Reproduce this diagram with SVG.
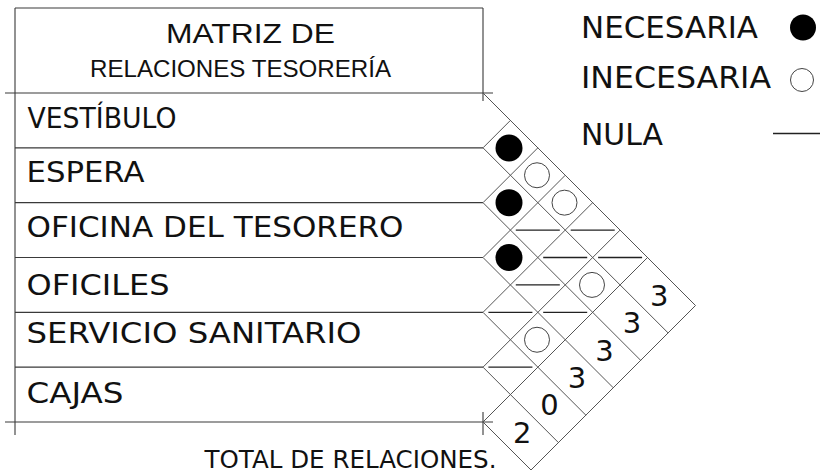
<svg xmlns="http://www.w3.org/2000/svg" width="820" height="473" viewBox="0 0 820 473">
<style>
.tl{stroke:#3a3a3a;stroke-width:1.1;fill:none}
.gl{stroke:#555;stroke-width:1;fill:none}
.ds{stroke:#222;stroke-width:1.3}
.fc{fill:#000}
.oc{fill:#fff;stroke:#444;stroke-width:1}
.lb{font-family:"DejaVu Sans",Verdana,sans-serif;font-size:28px;fill:#111}
.tot{font-family:"DejaVu Sans",Verdana,sans-serif;font-size:24px;fill:#111}
.lg{font-family:"DejaVu Sans",Verdana,sans-serif;font-size:31px;fill:#111}
.nm{font-family:"DejaVu Sans",Verdana,sans-serif;font-size:29px;fill:#111;text-anchor:middle}
.tt{font-family:"Liberation Sans",Arial,sans-serif;fill:#111}
</style>
<rect width="820" height="473" fill="#fff"/>
<g id="table">
<path class="tl" d="M15,8H483M15,8V435M483,8V101M5,93H493M15,147.83H483M15,202.67H483M15,257.5H483M15,312.33H483M15,367.17H483M5,422H493M483,412V435"/>
</g>
<g id="title">
<text class="tt" x="166" y="42.7" font-size="28" textLength="169" lengthAdjust="spacingAndGlyphs">MATRIZ DE</text>
<text class="tt" x="90" y="76.7" font-size="24" textLength="301" lengthAdjust="spacingAndGlyphs">RELACIONES TESORERÍA</text>
</g>
<g id="row-vestibulo"><text class="lb" x="27.5" y="128.3" textLength="149" lengthAdjust="spacingAndGlyphs">VESTÍBULO</text></g>
<g id="row-espera"><text class="lb" x="26.5" y="181.7" textLength="118" lengthAdjust="spacingAndGlyphs">ESPERA</text></g>
<g id="row-oficina"><text class="lb" x="26.5" y="236.7" textLength="377" lengthAdjust="spacingAndGlyphs">OFICINA DEL TESORERO</text></g>
<g id="row-oficiles"><text class="lb" x="26.5" y="295" textLength="143" lengthAdjust="spacingAndGlyphs">OFICILES</text></g>
<g id="row-servicio"><text class="lb" x="26.5" y="343.3" textLength="335" lengthAdjust="spacingAndGlyphs">SERVICIO SANITARIO</text></g>
<g id="row-cajas"><text class="lb" x="26.5" y="403.3" textLength="97" lengthAdjust="spacingAndGlyphs">CAJAS</text></g>
<g id="connectors">
<path class="gl" d="M483,93L695.5,305.5M483,147.83L668.08,332.92M483,202.67L640.67,360.33M483,257.5L613.25,387.75M483,312.33L585.83,415.17M483,367.17L558.42,442.58M483,422L531,470M483,147.83L510.42,120.42M483,202.67L537.83,147.83M483,257.5L565.25,175.25M483,312.33L592.67,202.67M483,367.17L620.08,230.08M483,422L647.5,257.5M695.5,305.5L531,470"/>
</g>
<g id="cells">
<circle class="fc" cx="509" cy="148" r="13.5"/>
<circle class="fc" cx="509" cy="202.67" r="13.5"/>
<circle class="fc" cx="509" cy="257.5" r="13.5"/>
<circle class="oc" cx="537" cy="175.25" r="12.5"/>
<circle class="oc" cx="537" cy="339.75" r="12.5"/>
<circle class="oc" cx="564.5" cy="202.67" r="12.5"/>
<circle class="oc" cx="592" cy="284.92" r="12.5"/>
<path class="ds" d="M488.4,312.33H532.4M488.4,367.17H532.4M515.8,230.08H559.8M515.8,284.92H559.8M543.2,257.5H587.2M543.2,312.33H587.2M570.7,230.08H614.7M598.1,257.5H642.1"/>
</g>
<g id="totals">
<text class="nm" x="659.3" y="305.7">3</text>
<text class="nm" x="631.9" y="333.1">3</text>
<text class="nm" x="604.5" y="360.5">3</text>
<text class="nm" x="577" y="388">3</text>
<text class="nm" x="549.6" y="415.4">0</text>
<text class="nm" x="522.2" y="442.8">2</text>
</g>
<g id="total-label"><text class="tot" x="204.5" y="467.5" textLength="292" lengthAdjust="spacingAndGlyphs">TOTAL DE RELACIONES.</text></g>
<g id="legend">
<text class="lg" x="581" y="38.3" textLength="177" lengthAdjust="spacingAndGlyphs">NECESARIA</text>
<circle class="fc" cx="803" cy="27.5" r="13"/>
<text class="lg" x="581" y="88.3" textLength="190" lengthAdjust="spacingAndGlyphs">INECESARIA</text>
<circle class="oc" cx="802" cy="80" r="11.5"/>
<text class="lg" x="581" y="145" textLength="82" lengthAdjust="spacingAndGlyphs">NULA</text>
<path class="ds" d="M773,133.5H820"/>
</g>
</svg>
